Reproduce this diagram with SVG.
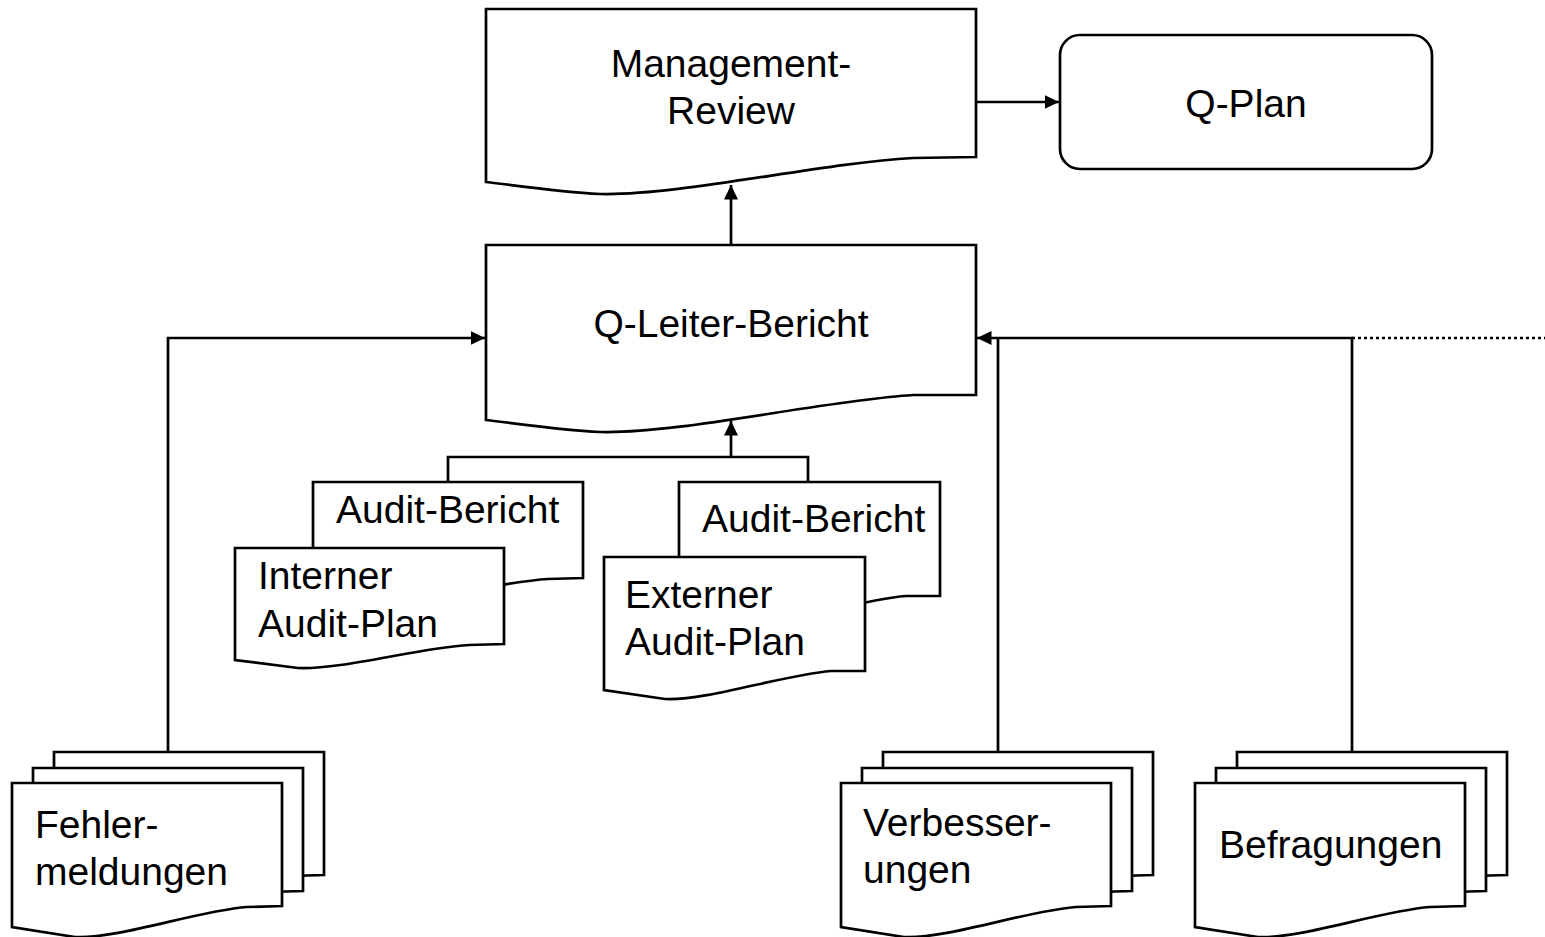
<svg xmlns="http://www.w3.org/2000/svg" width="1545" height="937" viewBox="0 0 1545 937">
<defs>
<style>
.doc{fill:#fff;stroke:#000;stroke-width:2.7;stroke-linejoin:miter}
.box{fill:#fff;stroke:#000;stroke-width:2.7}
.ln{fill:none;stroke:#000;stroke-width:2.7}
.dot{fill:none;stroke:#000;stroke-width:2.7;stroke-dasharray:3 3}
text{font-family:"Liberation Sans",Arial,sans-serif;font-size:39px;fill:#000}
.c{text-anchor:middle}
</style>
<marker id="ah" markerUnits="userSpaceOnUse" markerWidth="16" markerHeight="15" refX="14.5" refY="7" orient="auto">
<path d="M0,0 L14.5,7 L0,14 Z" fill="#000"/>
</marker>
</defs>
<rect width="1545" height="937" fill="#fff"/>

<g id="connectors">
<path class="ln" d="M976,102 H1059" marker-end="url(#ah)"/>
<path class="ln" d="M731,245 V185" marker-end="url(#ah)"/>
<path class="ln" d="M731,457 V421" marker-end="url(#ah)"/>
<path class="ln" d="M448,482 V457 H808 V482"/>
<path class="ln" d="M168,752 V338 H485" marker-end="url(#ah)"/>
<path class="ln" d="M998,752 V338"/>
<path class="ln" d="M1352,752 V338 H977" marker-end="url(#ah)"/>
<path class="dot" d="M1352,338 H1545"/>
</g>

<g id="management-review">
<path class="doc" d="M486,9 H976 V157 L913,158 C820,163 680,196 600,194 C560,192 520,186 486,182 Z"/>
<text class="c" x="731" y="77">Management-</text>
<text class="c" x="731" y="124">Review</text>
</g>

<g id="q-plan">
<rect class="box" x="1060" y="35" width="372" height="134" rx="20" ry="20"/>
<text class="c" x="1246" y="117">Q-Plan</text>
</g>

<g id="q-leiter-bericht">
<path class="doc" d="M486,245 H976 V395 L913,395 C820,401 680,434 600,432 C560,430 520,424 486,420 Z"/>
<text class="c" x="731" y="337">Q-Leiter-Bericht</text>
</g>

<g id="interner-audit">
<path class="doc" d="M313,482 H583 V578 L548,579 C497,582 420,604 376,602 L313,595 Z"/>
<text x="336" y="523">Audit-Bericht</text>
<path class="doc" d="M235,548 H504 V644 L469,645 C418,648 341,670 298,668 L235,660 Z"/>
<text x="258" y="589">Interner</text>
<text x="258" y="637">Audit-Plan</text>
</g>

<g id="externer-audit">
<path class="doc" d="M679,482 H940 V596 L906,596 C857,600 782,626 740,624 L679,615 Z"/>
<text x="702" y="532">Audit-Bericht</text>
<path class="doc" d="M604,557 H865 V671 L831,671 C782,675 707,701 665,699 L604,690 Z"/>
<text x="625" y="608">Externer</text>
<text x="625" y="655">Audit-Plan</text>
</g>

<g id="fehlermeldungen">
<path class="doc" d="M54,752 H324 V875 L289,876 C238,880 161,908 117,906 L54,896 Z"/>
<path class="doc" d="M33,768 H303 V891 L268,892 C217,896 140,924 96,922 L33,912 Z"/>
<path class="doc" d="M12,783 H282 V906 L247,907 C196,911 119,939 75,937 L12,927 Z"/>
<text x="35" y="838">Fehler-</text>
<text x="35" y="885">meldungen</text>
</g>

<g id="verbesserungen">
<path class="doc" d="M883,752 H1153 V875 L1118,876 C1067,880 990,908 946,906 L883,896 Z"/>
<path class="doc" d="M862,768 H1132 V891 L1097,892 C1046,896 969,924 925,922 L862,912 Z"/>
<path class="doc" d="M841,783 H1111 V906 L1076,907 C1025,911 948,939 904,937 L841,927 Z"/>
<text x="863" y="836">Verbesser-</text>
<text x="863" y="883">ungen</text>
</g>

<g id="befragungen">
<path class="doc" d="M1237,752 H1507 V875 L1472,876 C1421,880 1344,908 1300,906 L1237,896 Z"/>
<path class="doc" d="M1216,768 H1486 V891 L1451,892 C1400,896 1323,924 1279,922 L1216,912 Z"/>
<path class="doc" d="M1195,783 H1465 V906 L1430,907 C1379,911 1302,939 1258,937 L1195,927 Z"/>
<text x="1219" y="858">Befragungen</text>
</g>
</svg>
